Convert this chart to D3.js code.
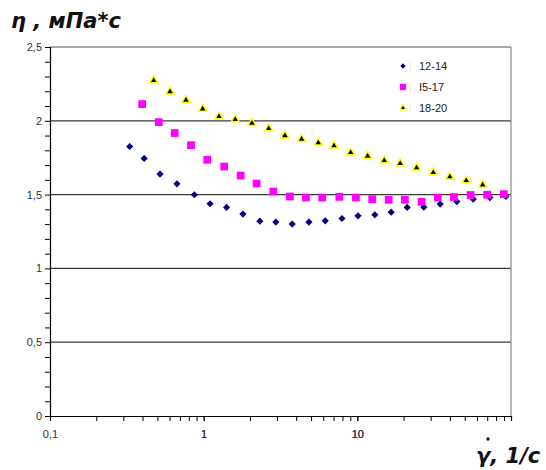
<!DOCTYPE html>
<html>
<head>
<meta charset="utf-8">
<script src="https://cdn.jsdelivr.net/npm/d3@7"></script>
<style>
  body { margin: 0; background: #fff; }
  text { font-family: "Liberation Sans", Arial, sans-serif; }
</style>
</head>
<body>
<svg id="chart" width="546" height="470"></svg>
<script>
// shear rate (1/s) and viscosity (mPa*s) per temperature group
var seriesNames = ["12-14", "I5-17", "18-20"];

var rate1 = [0.33, 0.41, 0.52, 0.67, 0.87, 1.1, 1.41, 1.8, 2.32, 2.95, 3.77, 4.84,
             6.18, 7.94, 10.1, 13.0, 16.6, 21.1, 27.1, 34.6, 44.4, 56.8, 72.9, 92.7];
var visc1 = [1.826, 1.745, 1.639, 1.573, 1.499, 1.438, 1.413, 1.368, 1.32, 1.314, 1.30, 1.314,
             1.322, 1.338, 1.356, 1.363, 1.381, 1.413, 1.415, 1.436, 1.453, 1.469, 1.48, 1.487];

var rate2 = [0.398, 0.51, 0.648, 0.827, 1.055, 1.36, 1.74, 2.21, 2.84, 3.64, 4.63, 5.91,
             7.63, 9.79, 12.5, 16.0, 20.4, 26.2, 33.4, 42.5, 54.6, 70.0, 89.9];
var visc2 = [2.113, 1.991, 1.917, 1.835, 1.736, 1.69, 1.629, 1.575, 1.521, 1.487, 1.48, 1.48,
             1.485, 1.48, 1.469, 1.465, 1.465, 1.451, 1.48, 1.483, 1.497, 1.499, 1.503];

var rate3 = [0.473, 0.604, 0.767, 0.985, 1.258, 1.606, 2.06, 2.65, 3.38, 4.34, 5.57,
             7.05, 9.05, 11.67, 14.96, 19.0, 24.3, 31.2, 40.0, 51.1, 65.4];
var visc3 = [2.273, 2.198, 2.14, 2.081, 2.029, 2.009, 1.984, 1.948, 1.9, 1.876, 1.851,
             1.831, 1.785, 1.761, 1.731, 1.711, 1.682, 1.65, 1.621, 1.596, 1.566];

var yTicks = [0, 0.5, 1, 1.5, 2, 2.5];
var xTicks = [0.1, 1, 10];

var svg = d3.select("#chart");
var plotLeft = 50, plotRight = 511, plotTop = 47, plotBottom = 416;

var x = d3.scaleLog().domain([0.1, 100]).range([plotLeft, plotRight]);
var y = d3.scaleLinear().domain([0, 2.5]).range([plotBottom, plotTop]);

var ru = d3.formatLocale({decimal: ",", thousands: " ", grouping: [3], currency: ["", ""]});
var fmt = function(d) { return ru.format("~g")(d); };

// grid lines
svg.append("g").selectAll("line")
    .data(yTicks.slice(1, 5))
    .join("line")
    .attr("x1", plotLeft).attr("x2", plotRight)
    .attr("y1", function(d) { return y(d); })
    .attr("y2", function(d) { return y(d); })
    .attr("stroke", "#3a3a3a")
    .attr("stroke-width", 1.3);

// frame: top and right
svg.append("line").attr("x1", plotLeft).attr("x2", plotRight).attr("y1", plotTop).attr("y2", plotTop)
    .attr("stroke", "#555").attr("stroke-width", 1.2);
svg.append("line").attr("x1", plotRight).attr("x2", plotRight).attr("y1", plotTop).attr("y2", plotBottom)
    .attr("stroke", "#888").attr("stroke-width", 1.2);

// y axis
var yAxis = d3.axisLeft(y)
    .tickValues(d3.range(0, 26).map(function(i) { return i / 10; }))
    .tickSize(5)
    .tickFormat(function(d) {
        return yTicks.some(function(t) { return Math.abs(t - d) < 1e-6; }) ? fmt(d) : "";
    });
var gy = svg.append("g").attr("transform", "translate(" + plotLeft + ",0)").call(yAxis);
gy.select(".domain").attr("stroke", "#000").attr("stroke-width", 1.2);
gy.selectAll(".tick line").attr("stroke", "#000");
gy.selectAll("text").attr("font-size", 11).attr("fill", "#333").attr("x", -8);

// x axis
var minor = [];
[0.1, 1, 10].forEach(function(dec) {
    for (var k = 1; k <= 10; k++) minor.push(dec * k);
});
var xAxis = d3.axisBottom(x)
    .tickValues(minor)
    .tickSize(5)
    .tickFormat(function(d) {
        return xTicks.some(function(t) { return Math.abs(t - d) / t < 1e-6; }) ? fmt(d) : "";
    });
var gx = svg.append("g").attr("transform", "translate(0," + plotBottom + ")").call(xAxis);
gx.select(".domain").attr("stroke", "#000").attr("stroke-width", 1.2);
gx.selectAll(".tick line").attr("stroke", "#000");
gx.selectAll("text").attr("font-size", 11).attr("fill", "#333").attr("y", 14);

// markers (Excel-like diamond = square turned 45 degrees)
var diamond = d3.symbol().type(d3.symbolSquare).size(26);
var square = d3.symbol().type(d3.symbolSquare).size(60);
var triangle = d3.symbol().type(d3.symbolTriangle).size(28);

svg.append("g").selectAll("path")
    .data(d3.zip(rate1, visc1))
    .join("path")
    .attr("d", diamond)
    .attr("transform", function(d) { return "translate(" + x(d[0]) + "," + y(d[1]) + ") rotate(45)"; })
    .attr("fill", "#000080");

svg.append("g").selectAll("path")
    .data(d3.zip(rate2, visc2))
    .join("path")
    .attr("d", square)
    .attr("transform", function(d) { return "translate(" + x(d[0]) + "," + y(d[1]) + ")"; })
    .attr("fill", "#ff00ff");

svg.append("g").selectAll("path")
    .data(d3.zip(rate3, visc3))
    .join("path")
    .attr("d", triangle)
    .attr("transform", function(d) { return "translate(" + x(d[0]) + "," + y(d[1]) + ")"; })
    .attr("fill", "#000")
    .attr("stroke", "#ffff00")
    .attr("stroke-width", 1.5);

// legend
var legendSyms = [d3.symbol().type(d3.symbolSquare).size(14),
                  d3.symbol().type(d3.symbolSquare).size(40),
                  d3.symbol().type(d3.symbolTriangle).size(16)];
var legend = svg.append("g");
seriesNames.forEach(function(name, i) {
    var ly = 66 + i * 21;
    var p = legend.append("path")
        .attr("d", legendSyms[i])
        .attr("transform", "translate(403," + ly + ")" + (i == 0 ? " rotate(45)" : ""));
    if (i == 0) p.attr("fill", "#000080");
    if (i == 1) p.attr("fill", "#ff00ff");
    if (i == 2) p.attr("fill", "#000").attr("stroke", "#ffff00").attr("stroke-width", 1.3);
    legend.append("line")
        .attr("x1", 410).attr("x2", 410).attr("y1", ly - 4).attr("y2", ly + 5)
        .attr("stroke", "#f3dfb8").attr("stroke-width", 1);
    legend.append("text")
        .attr("x", 419).attr("y", ly + 4)
        .attr("font-size", 11).attr("fill", "#222")
        .text(name);
});

// axis titles (bold italic, Verdana-like)
svg.append("text")
    .attr("x", 11).attr("y", 28)
    .style("font-family", "'DejaVu Sans', Verdana, sans-serif")
    .style("font-size", "21px").style("font-weight", "bold").style("font-style", "italic")
    .attr("fill", "#111")
    .text("η , мПа*с");

svg.append("text")
    .attr("x", 476).attr("y", 463)
    .style("font-family", "'DejaVu Sans', Verdana, sans-serif")
    .style("font-size", "21px").style("font-weight", "bold").style("font-style", "italic")
    .attr("fill", "#111")
    .text("γ, 1/с");
svg.append("circle").attr("cx", 488).attr("cy", 439).attr("r", 1.7).attr("fill", "#111");
</script>
</body>
</html>
